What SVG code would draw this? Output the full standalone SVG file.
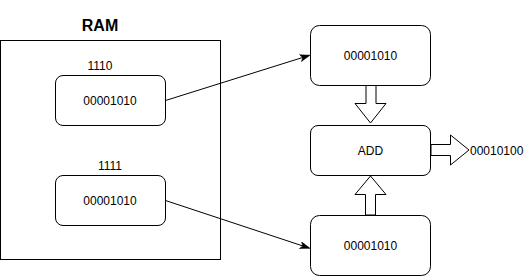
<svg xmlns="http://www.w3.org/2000/svg" width="526" height="277" viewBox="0 0 526 277">
<style>
text{font-family:"Liberation Sans",Arial,sans-serif;font-size:12px;fill:#000;}
.t{text-anchor:middle;}
.box{fill:#fff;stroke:#000;stroke-width:1;}
.blk{fill:#fff;stroke:#000;stroke-width:1;}
.conn{fill:none;stroke:#000;stroke-width:1;}
</style>
<defs>
<marker id="arr" viewBox="0 0 10 10" refX="9" refY="5" markerWidth="10" markerHeight="10" markerUnits="userSpaceOnUse" orient="auto">
<path d="M0,1.5 L10,5 L0,8.5 L2.5,5 Z" fill="#000" stroke="#000" stroke-width="0.5"/>
</marker>
</defs>
<rect width="526" height="277" fill="#fff"/>
<g id="ram">
<rect class="box" x="0.5" y="40.5" width="220" height="219"/>
<text class="t" x="100" y="31" style="font-size:16px;font-weight:bold">RAM</text>
</g>
<g id="mem1">
<text class="t" x="100" y="70">1110</text>
<rect class="box" x="55.5" y="75.5" width="110" height="50" rx="7.5"/>
<text class="t" x="110" y="105">00001010</text>
</g>
<g id="mem2">
<text class="t" x="110" y="170">1111</text>
<rect class="box" x="55.5" y="175.5" width="110" height="50" rx="7.5"/>
<text class="t" x="110" y="205">00001010</text>
</g>
<g id="reg1">
<rect class="box" x="310.5" y="25.5" width="120" height="60" rx="9"/>
<text class="t" x="370.5" y="60">00001010</text>
</g>
<g id="add">
<rect class="box" x="310.5" y="125.5" width="120" height="50" rx="7.5"/>
<text class="t" x="370.5" y="155">ADD</text>
</g>
<g id="reg2">
<rect class="box" x="310.5" y="215.5" width="120" height="60" rx="9"/>
<text class="t" x="370.5" y="250">00001010</text>
</g>
<g id="result">
<text x="470" y="155">00010100</text>
</g>
<g id="connectors">
<path class="conn" d="M165.5,100.5 L309,55.5" marker-end="url(#arr)"/>
<path class="conn" d="M165.5,200.5 L309,248" marker-end="url(#arr)"/>
<path class="blk" d="M366,85.5 L376,85.5 L376,103.5 L386,103.5 L370.5,123 L355,103.5 L366,103.5 Z"/>
<path class="blk" d="M365.5,215 L375.5,215 L375.5,194.5 L386,194.5 L370.5,176 L355,194.5 L365.5,194.5 Z"/>
<path class="blk" d="M431,144.5 L450.5,144.5 L450.5,135 L469,150 L450.5,165 L450.5,155.5 L431,155.5 Z"/>
</g>
</svg>
